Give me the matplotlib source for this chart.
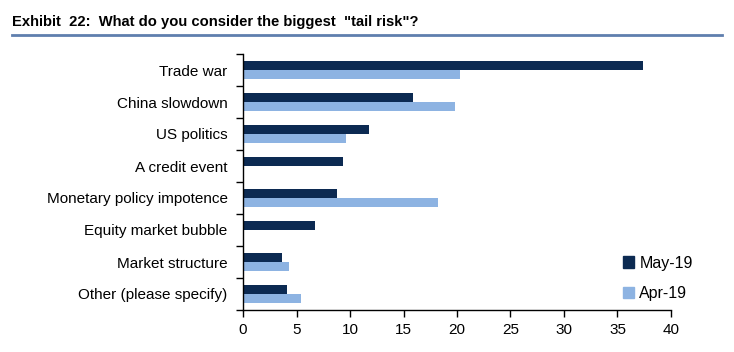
import numpy as np
import matplotlib.pyplot as plt
from matplotlib.patches import Patch
from matplotlib.lines import Line2D

### Data ###
categories = [
    "Trade war",
    "China slowdown",
    "US politics",
    "A credit event",
    "Monetary policy impotence",
    "Equity market bubble",
    "Market structure",
    "Other (please specify)",
]
may_19 = [37.4, 15.9, 11.8, 9.3, 8.8, 6.7, 3.6, 4.1]
apr_19 = [20.3, 19.8, 9.6, 0.0, 18.2, 0.0, 4.3, 5.4]
series_names = ["May-19", "Apr-19"]

dark = "#0c2a52"
light = "#8db3e2"

plt.rcParams["font.family"] = ["Liberation Sans", "DejaVu Sans"]

fig = plt.figure(figsize=(7.34, 3.52), dpi=100)
ax = fig.add_axes([243 / 734, 1 - 310 / 352, 428 / 734, 256 / 352])

y = np.arange(len(categories))
h = 0.28
ax.barh(y - h / 2, may_19, height=h, color=dark, label=series_names[0])
ax.barh(y + h / 2, apr_19, height=h, color=light, label=series_names[1])

ax.set_xlim(0, 40)
ax.set_ylim(len(categories) - 0.5, -0.5)
ax.set_xticks(np.arange(0, 41, 5))

# category labels without tick marks, ticks at boundaries instead
ax.set_yticks(y)
ax.set_yticklabels(categories, fontsize=11)
ax.tick_params(axis="y", length=0, pad=11)
ax.set_yticks(np.arange(-0.5, len(categories), 1), minor=True)
ax.tick_params(axis="y", which="minor", length=5, width=1, direction="out")
ax.tick_params(axis="x", length=5, width=1, direction="out", labelsize=11, pad=4)

for side in ["top", "right"]:
    ax.spines[side].set_visible(False)
ax.spines["left"].set_linewidth(1)
ax.spines["bottom"].set_linewidth(1)

handles = [Patch(color=dark), Patch(color=light)]
ax.legend(handles, series_names, loc="lower left", bbox_to_anchor=(0.855, -0.02),
          frameon=False, fontsize=11.5, handlelength=0.7, handleheight=0.7,
          handletextpad=0.3, labelspacing=0.95)

# title and rule
fig.text(12 / 734, 1 - 22 / 352, 'Exhibit  22:  What do you consider the biggest  "tail risk"?',
         fontsize=10.6, fontweight="bold", va="center", ha="left")
fig.add_artist(Line2D([12 / 734, 722 / 734], [1 - 35 / 352, 1 - 35 / 352],
                      color="#5f7fae", linewidth=2))

plt.savefig("out.png", dpi=100)
